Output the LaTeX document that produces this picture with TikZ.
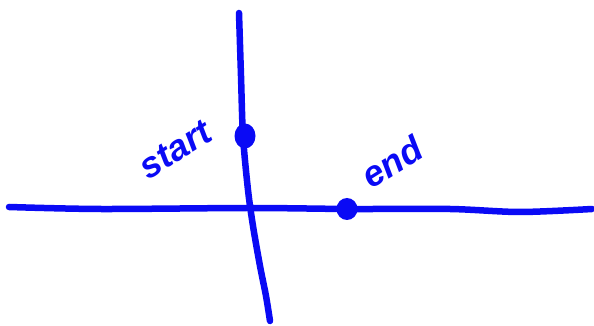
\documentclass[tikz,border=0pt]{standalone}
\usepackage{fontspec}
\setmainfont{Liberation Sans}
\usetikzlibrary{positioning}
\definecolor{penBlue}{HTML}{0A0AF5}
\tikzset{
  penline/.style={draw=penBlue, line width=6.5pt, line cap=round, line join=round},
  inkdot/.style={ellipse, fill=penBlue, inner sep=0pt, minimum width=21pt, minimum height=25pt},
  scrawl/.style={text=penBlue, font=\fontsize{36}{40}\selectfont\bfseries\itshape, inner sep=0pt, rotate=32},
}
\usetikzlibrary{shapes.geometric}
\begin{document}
\begin{tikzpicture}[x=1pt, y=1pt]
\useasboundingbox (0,0) rectangle (594,326);
% the two wobbly axes
\draw[penline] plot[smooth] coordinates {(9,119) (100,117) (250,118) (350,117) (450,117) (520,114) (592,117)};
\draw[penline] plot[smooth] coordinates {(239,313) (241,250) (243,190) (248,136) (253,100) (260,60) (266,30) (270,5)};
% marked points
\node[inkdot] (startDot) at (245,190) {};
\node[inkdot, minimum height=22pt] (endDot) at (347,117) {};
% labels
\node[scrawl] (startLabel) at ([shift={(-70,-14)}]startDot) {start};
\node[scrawl] (endLabel) at ([shift={(45,47)}]endDot) {end};
\end{tikzpicture}
\end{document}
